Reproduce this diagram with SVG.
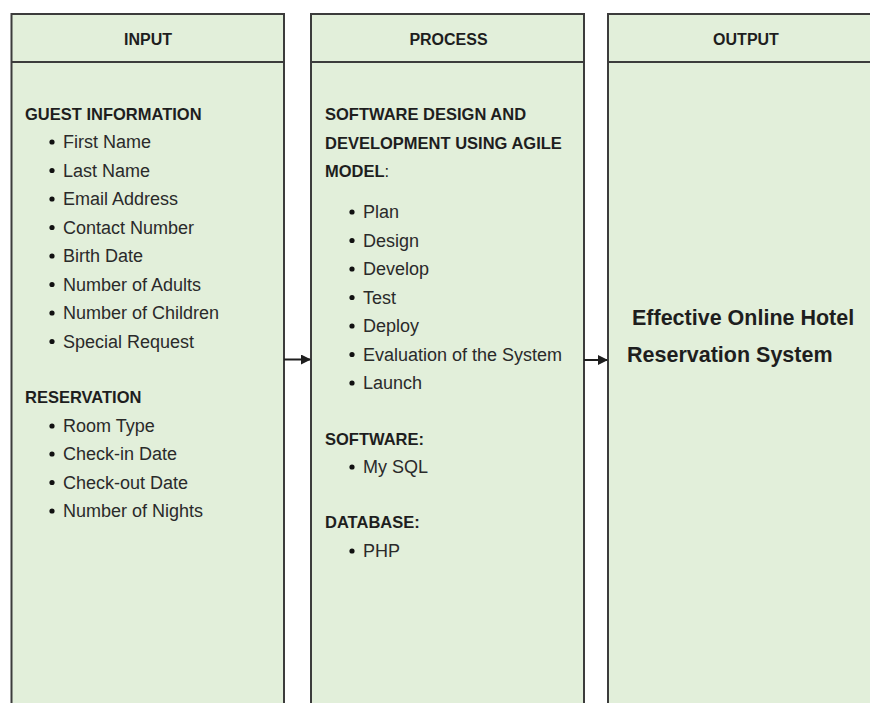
<svg xmlns="http://www.w3.org/2000/svg" width="870" height="703" viewBox="0 0 870 703">
  <style>
    .col { fill: #e2efda; stroke: #3c3c3c; stroke-width: 2; }
    .rule { stroke: #3c3c3c; stroke-width: 2; }
    text { font-family: "Liberation Sans", Arial, sans-serif; fill: #1e1e1e; }
    .hd { font-size: 16px; font-weight: bold; text-anchor: middle; }
    .sec { font-size: 16.5px; font-weight: bold; }
    .item { font-size: 18px; fill: #2a2a2a; }
    .dot { fill: #111; }
    .out { font-size: 21.5px; font-weight: bold; }
    .conn { stroke: #1e1e1e; stroke-width: 2; fill: none; }
  </style>
  <defs>
    <marker id="arrow" viewBox="0 0 10 10" refX="9" refY="5" markerWidth="5" markerHeight="5" orient="auto" markerUnits="strokeWidth">
      <path d="M0,0 L10,5 L0,10 z" fill="#1e1e1e"/>
    </marker>
    <circle id="bullet" class="dot" r="2.6"/>
  </defs>

  <rect width="870" height="703" fill="#ffffff"/>

  <!-- Input column -->
  <g id="input">
    <rect class="col" x="11.5" y="14" width="272.5" height="720"/>
    <line class="rule" x1="11.5" y1="62" x2="284" y2="62"/>
    <text class="hd" x="148" y="45">INPUT</text>
    <text class="sec" x="25" y="120">GUEST INFORMATION</text>
    <g>
      <use href="#bullet" x="52" y="142"/><text class="item" x="63" y="148">First Name</text>
      <use href="#bullet" x="52" y="170.5"/><text class="item" x="63" y="176.5">Last Name</text>
      <use href="#bullet" x="52" y="199"/><text class="item" x="63" y="205">Email Address</text>
      <use href="#bullet" x="52" y="227.5"/><text class="item" x="63" y="233.5">Contact Number</text>
      <use href="#bullet" x="52" y="256"/><text class="item" x="63" y="262">Birth Date</text>
      <use href="#bullet" x="52" y="284.5"/><text class="item" x="63" y="290.5">Number of Adults</text>
      <use href="#bullet" x="52" y="313"/><text class="item" x="63" y="319">Number of Children</text>
      <use href="#bullet" x="52" y="341.5"/><text class="item" x="63" y="347.5">Special Request</text>
    </g>
    <text class="sec" x="25" y="403">RESERVATION</text>
    <g>
      <use href="#bullet" x="52" y="426"/><text class="item" x="63" y="432">Room Type</text>
      <use href="#bullet" x="52" y="454"/><text class="item" x="63" y="460">Check-in Date</text>
      <use href="#bullet" x="52" y="482.5"/><text class="item" x="63" y="488.5">Check-out Date</text>
      <use href="#bullet" x="52" y="511"/><text class="item" x="63" y="517">Number of Nights</text>
    </g>
  </g>

  <!-- Process column -->
  <g id="process">
    <rect class="col" x="311" y="14" width="273" height="720"/>
    <line class="rule" x1="311" y1="62" x2="584" y2="62"/>
    <text class="hd" x="448.5" y="45">PROCESS</text>
    <text class="sec" x="325" y="120">SOFTWARE DESIGN AND</text>
    <text class="sec" x="325" y="148.5">DEVELOPMENT USING AGILE</text>
    <text class="sec" x="325" y="177">MODEL<tspan font-weight="normal">:</tspan></text>
    <g>
      <use href="#bullet" x="352" y="212"/><text class="item" x="363" y="218">Plan</text>
      <use href="#bullet" x="352" y="240.5"/><text class="item" x="363" y="246.5">Design</text>
      <use href="#bullet" x="352" y="269"/><text class="item" x="363" y="275">Develop</text>
      <use href="#bullet" x="352" y="297.5"/><text class="item" x="363" y="303.5">Test</text>
      <use href="#bullet" x="352" y="326"/><text class="item" x="363" y="332">Deploy</text>
      <use href="#bullet" x="352" y="354.5"/><text class="item" x="363" y="360.5">Evaluation of the System</text>
      <use href="#bullet" x="352" y="383"/><text class="item" x="363" y="389">Launch</text>
    </g>
    <text class="sec" x="325" y="445">SOFTWARE:</text>
    <use href="#bullet" x="352" y="467"/><text class="item" x="363" y="473">My SQL</text>
    <text class="sec" x="325" y="528">DATABASE:</text>
    <use href="#bullet" x="352" y="551"/><text class="item" x="363" y="557">PHP</text>
  </g>

  <!-- Output column -->
  <g id="output">
    <rect class="col" x="608" y="14" width="280" height="720"/>
    <line class="rule" x1="608" y1="62" x2="888" y2="62"/>
    <text class="hd" x="746" y="45">OUTPUT</text>
    <text class="out" x="632" y="325">Effective Online Hotel</text>
    <text class="out" x="627" y="362">Reservation System</text>
  </g>

  <!-- Connectors -->
  <g id="connectors">
    <line class="conn" x1="284" y1="359.5" x2="310" y2="359.5" marker-end="url(#arrow)"/>
    <line class="conn" x1="584" y1="360" x2="607" y2="360" marker-end="url(#arrow)"/>
  </g>
</svg>
